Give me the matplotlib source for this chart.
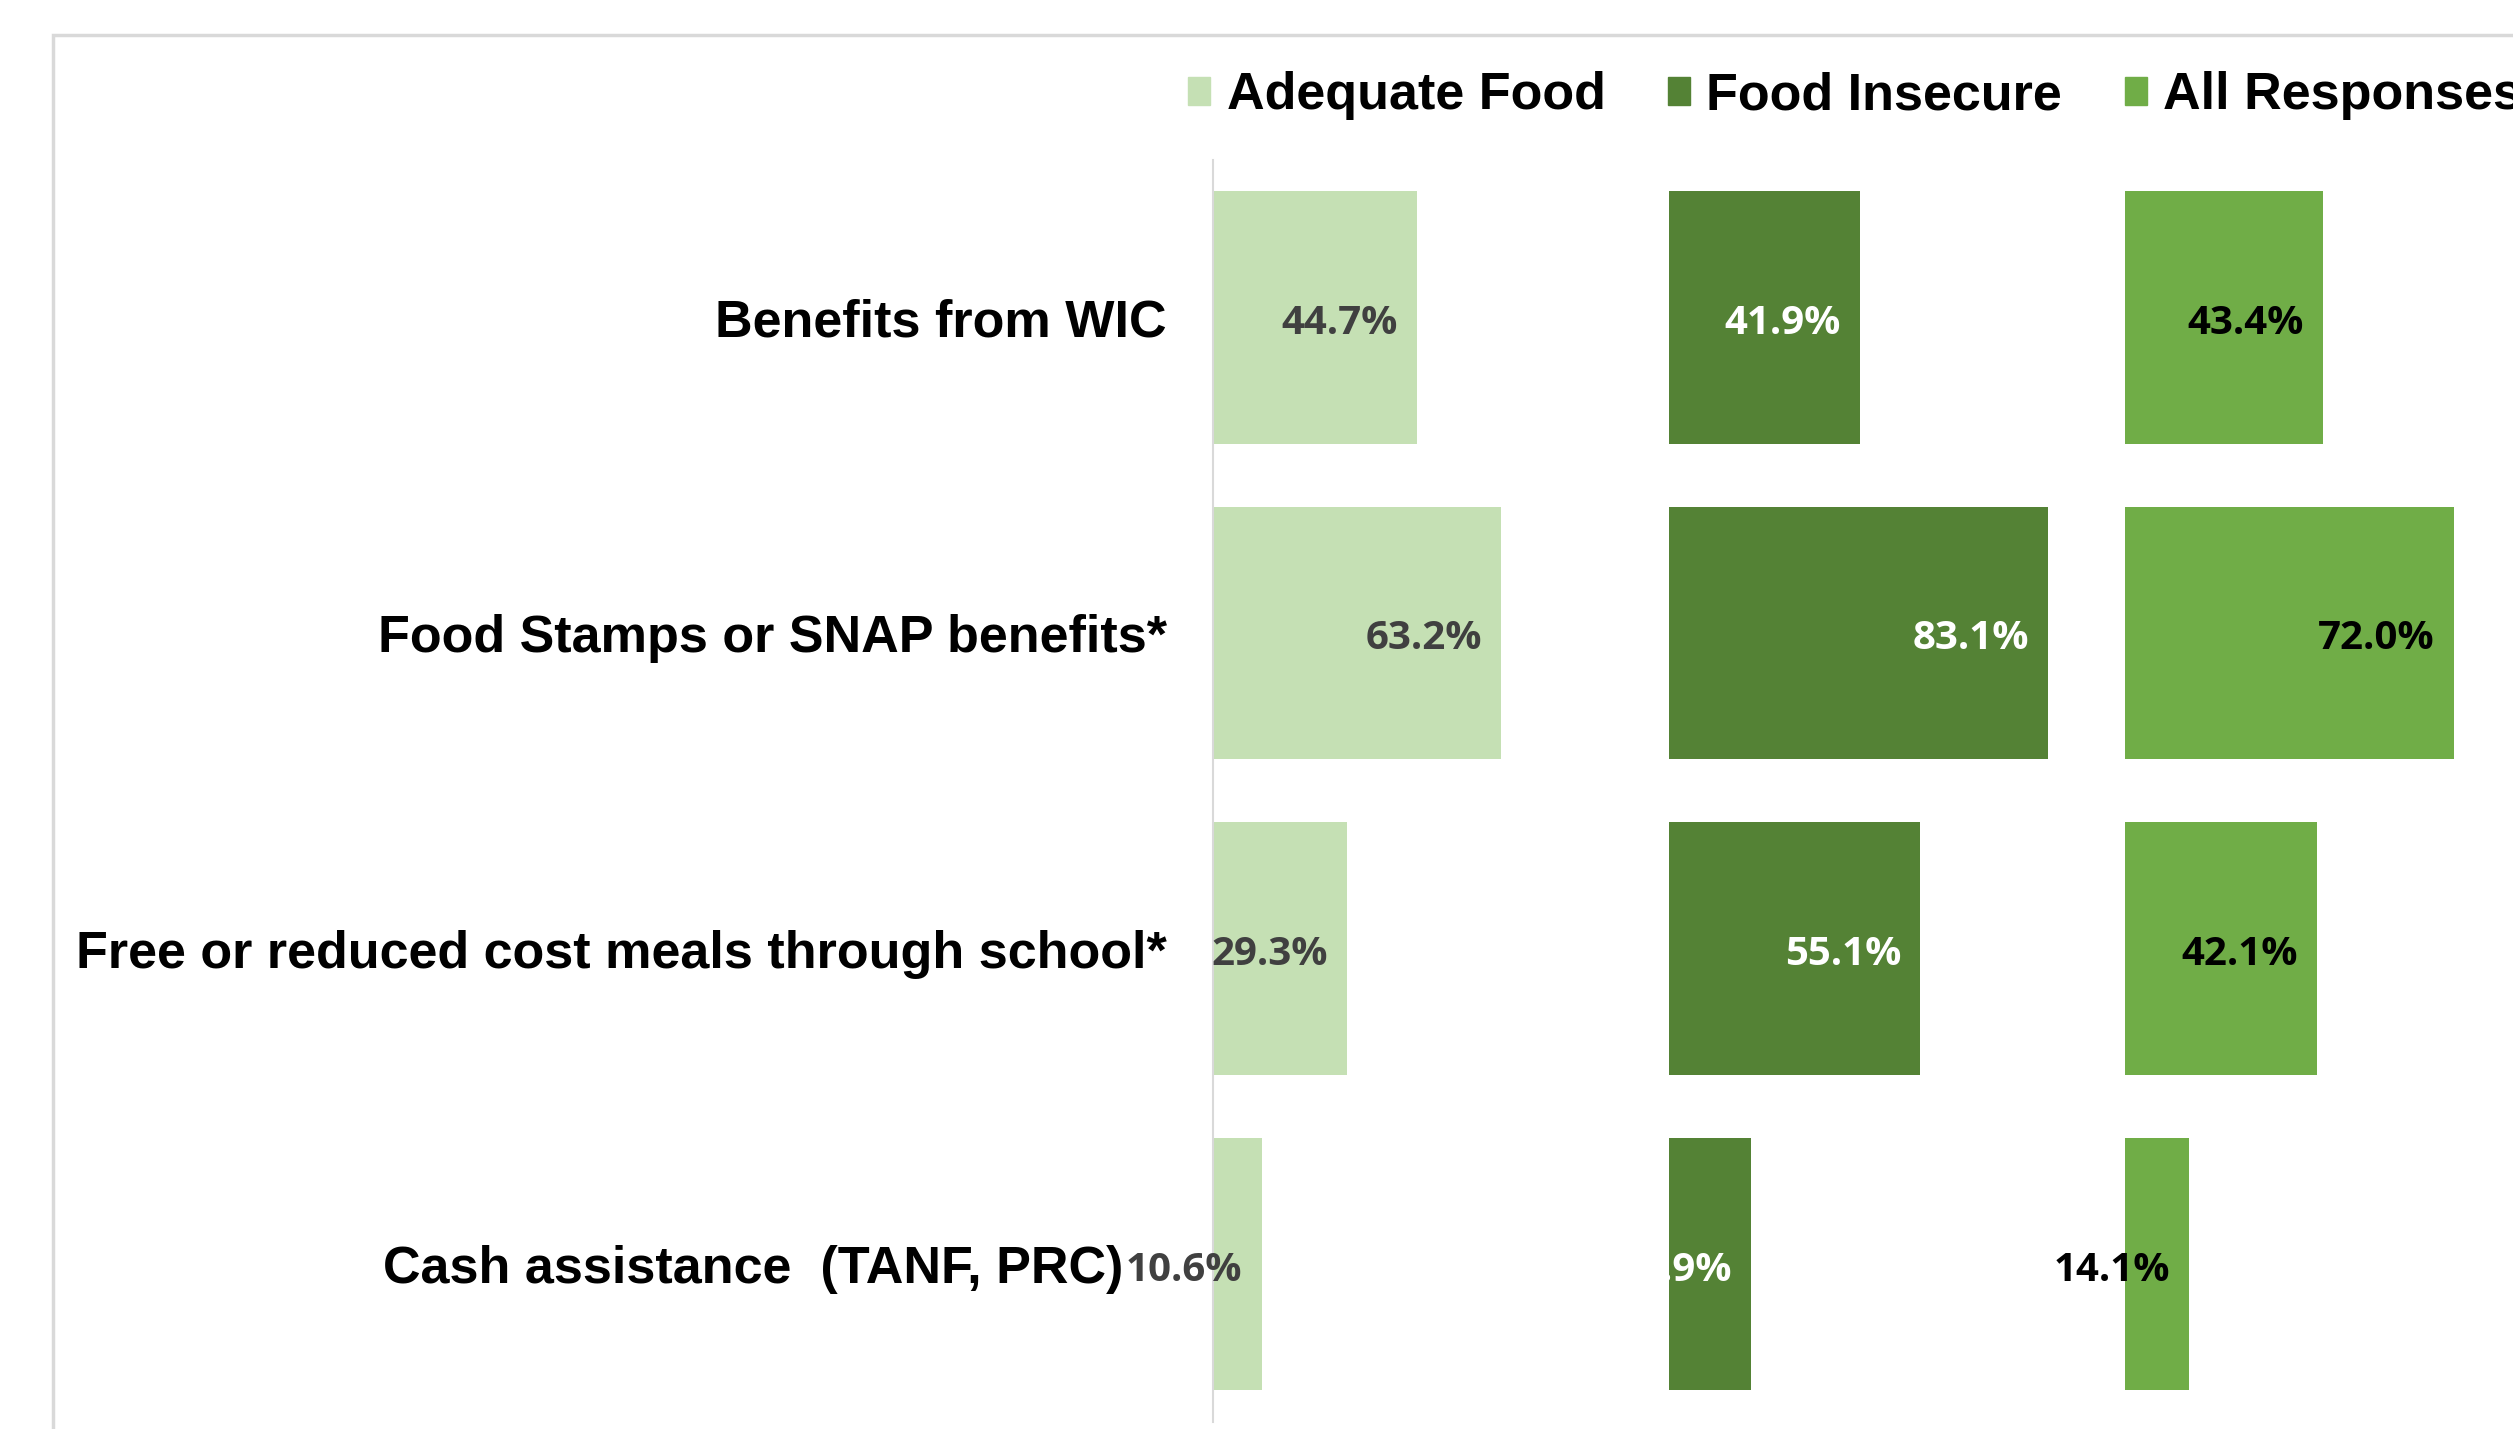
import matplotlib.pyplot as plt
from matplotlib.patches import Patch, Rectangle
from matplotlib.transforms import ScaledTranslation

categories = [
    "Benefits from WIC",
    "Food Stamps or SNAP benefits*",
    "Free or reduced cost meals through school*",
    "Cash assistance  (TANF, PRC)",
]
series_names = ["Adequate Food", "Food Insecure", "All Responses"]
adequate_food = [44.7, 63.2, 29.3, 10.6]
food_insecure = [41.9, 83.1, 55.1, 17.9]
all_responses = [43.4, 72.0, 42.1, 14.1]

colors = ["#C5E0B4", "#548235", "#70AD47"]
label_colors = ["#404040", "white", "black"]

W, H = 2513, 1429
fig = plt.figure(figsize=(W / 100, H / 100), dpi=100)


def fx(px):
    return px / W


def fy(py):
    return 1 - py / H


# outer chart border (right and bottom run off the picture)
fig.add_artist(Rectangle((fx(53), -0.1), 2, fy(35) + 0.1, transform=fig.transFigure,
                         fill=False, ec="#D9D9D9", lw=2.5))

panel_left = 1213.2
panel_w = 456
top, bottom = 159.5, 1422

y = list(range(len(categories)))
axes = []
for i, vals in enumerate([adequate_food, food_insecure, all_responses]):
    ax = fig.add_axes([fx(panel_left + i * panel_w), fy(bottom), panel_w / W, (bottom - top) / H])
    ax.barh(y, vals, height=0.8, color=colors[i])
    ax.set_xlim(0, 100)
    ax.set_ylim(len(categories) - 0.5, -0.5)
    for s in ax.spines.values():
        s.set_visible(False)
    ax.set_xticks([])
    ax.set_yticks([])
    ax.patch.set_alpha(0 if i != 1 else 1)
    for v, yy in zip(vals, y):
        ax.annotate(f"{v:.1f}%", xy=(v, yy), xytext=(-13.7, -4.3), textcoords="offset points",
                    ha="right", va="center", fontsize=29, fontweight="bold",
                    family="Open Sans", color=label_colors[i])
    axes.append(ax)

# panel order: the middle one sits under its neighbours
axes[0].set_zorder(2)
axes[0].patch.set_alpha(1)
axes[1].set_zorder(1)
axes[2].set_zorder(3)

ax0 = axes[0]
ax0.spines["left"].set_visible(True)
ax0.spines["left"].set_color("#D9D9D9")
ax0.spines["left"].set_linewidth(1.5)
ax0.set_yticks(y)
ax0.set_yticklabels(categories, fontsize=37.5, fontweight="bold", family="Liberation Sans")
ax0.tick_params(axis="y", length=0, pad=33.4)
last = ax0.get_yticklabels()[-1]
last.set_transform(last.get_transform() + ScaledTranslation(-0.43, 0, fig.dpi_scale_trans))

handles = [Patch(color=c, label=n) for c, n in zip(colors, series_names)]
fig.legend(handles=handles, loc="center left", bbox_to_anchor=(fx(1188), fy(96)), ncol=3,
           frameon=False, prop={"family": "Liberation Sans", "weight": "bold", "size": 37.5},
           handlelength=0.43, handleheight=0.43, handletextpad=0.31, columnspacing=1.2,
           borderpad=0, borderaxespad=0)

fig.savefig("out.png", dpi=100)
